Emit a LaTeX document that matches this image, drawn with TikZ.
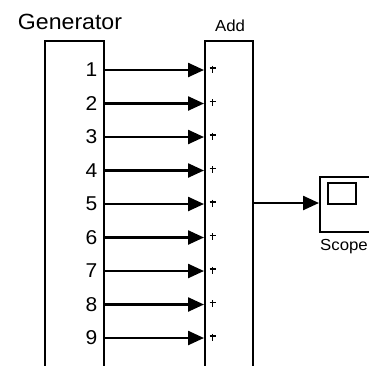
\documentclass[tikz,border=0pt]{standalone}
\usepackage{fontspec}
\setmainfont{Liberation Sans}
\usetikzlibrary{arrows.meta}
\tikzset{
  blk/.style={draw, line width=2.4pt, fill=white, inner sep=0pt, anchor=north west},
  sig/.style={line width=2.4pt, -{Triangle[length=16pt,width=14pt]}},
  lbl/.style={inner sep=0pt, font=\fontsize{#1}{#1}\selectfont},
  plusmark/.style={line width=1.8pt},
}
\newcommand{\wide}[1]{\scalebox{1.05}[1]{#1}}
\begin{document}
\begin{tikzpicture}[x=1pt,y=-1pt]
  \useasboundingbox (0,0) rectangle (369,365);
  \clip (0,0) rectangle (369,365);

  % blocks
  \node[blk, minimum width=59pt, minimum height=360pt] (gen) at (44,40) {};
  \node[blk, minimum width=48pt, minimum height=360pt] (add) at (204,40) {};
  \node[blk, minimum width=80pt, minimum height=55pt] (scope) at (319,176) {};
  \node[draw, line width=2.4pt, inner sep=0pt, minimum width=28pt, minimum height=21pt, anchor=north west] (screen) at (327,182) {};

  % block titles
  \node[lbl=22, anchor=base] (gentitle) at (70,29.5) {\wide{Generator}};
  \node[lbl=16, anchor=base] (addtitle) at (230,31.5) {\wide{Add}};
  \node[lbl=16, anchor=base west] (scopetitle) at (320,250.5) {\wide{Scope}};

  % nine generator outputs feeding the adder
  \foreach \i in {1,...,9} {
    \pgfmathsetmacro{\yy}{70+(\i-1)*33.5}
    \coordinate (r\i) at (0,\yy);
    \node[lbl=20, anchor=east] (n\i) at (97.5,\yy) {\wide{\i}};
    \draw[sig] (gen.east |- r\i) -- (add.west |- r\i);
    \draw[plusmark] (209.5,\yy-2) -- (215.5,\yy-2)
                    (212.5,\yy-4.5) -- (212.5,\yy+2.5);
  }

  % adder output to scope
  \coordinate (r5out) at (0,203);
  \draw[sig] (add.east |- r5out) -- (scope.west |- r5out);
\end{tikzpicture}
\end{document}
